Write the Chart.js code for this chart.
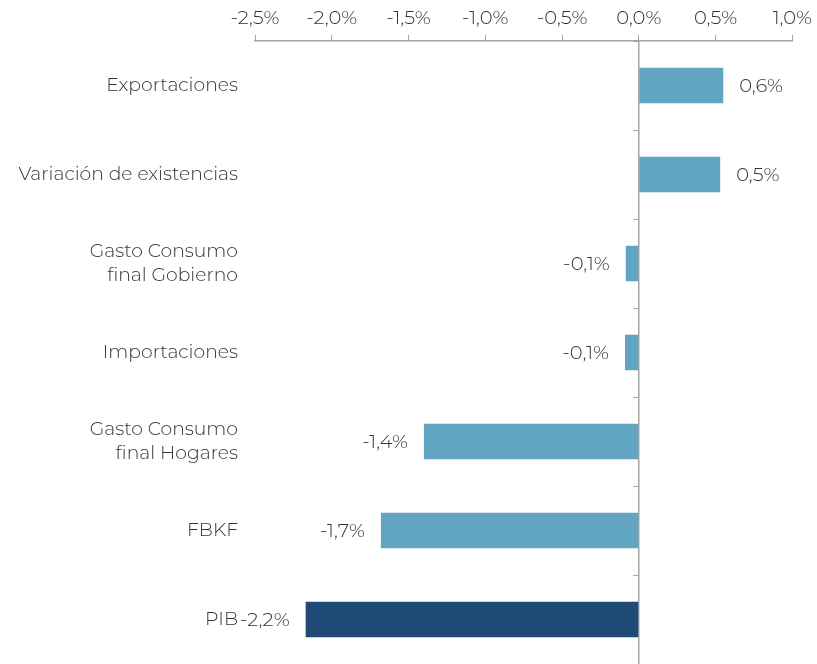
<!DOCTYPE html>
<html>
<head>
<meta charset="utf-8">
<script src="https://cdn.jsdelivr.net/npm/chart.js@4/dist/chart.umd.min.js"></script>
<style>
  html, body { margin: 0; padding: 0; background: #fff; }
  #wrap { width: 817px; height: 664px; }
</style>
</head>
<body>
<div id="wrap"><canvas id="myChart" width="817" height="664"></canvas></div>
<script>
'use strict';

// data
const categories = ['Exportaciones', 'Variación de existencias', ['Gasto Consumo', 'final Gobierno'], 'Importaciones', ['Gasto Consumo', 'final Hogares'], 'FBKF', 'PIB'];
const values = [0.55, 0.53, -0.085, -0.09, -1.40, -1.68, -2.17];
const valueLabels = ['0,6%', '0,5%', '-0,1%', '-0,1%', '-1,4%', '-1,7%', '-2,2%'];
const barColors = ['#62a5c1', '#62a5c1', '#62a5c1', '#62a5c1', '#62a5c1', '#62a5c1', '#1f4a76'];
const xMin = -2.5;
const xMax = 1.0;
const xStep = 0.5;

const textColor = '#333333';
const axisColor = '#a6a6a6';
const fontFamily = 'Montserrat, "Open Sans", Lato, sans-serif';

function fmtPct(v) {
  let s = Math.abs(v) < 1e-9 ? '0.0' : v.toFixed(1);
  return s.replace('.', ',') + '%';
}

// draws the value text next to each bar end
const barLabels = {
  id: 'barLabels',
  afterDatasetsDraw(chart) {
    let ctx = chart.ctx;
    let meta = chart.getDatasetMeta(0);
    ctx.save();
    ctx.font = '300 19.5px ' + fontFamily;
    ctx.fillStyle = textColor;
    ctx.textBaseline = 'middle';
    meta.data.forEach(function(bar, i) {
      if (values[i] >= 0) {
        ctx.textAlign = 'left';
        ctx.fillText(valueLabels[i], bar.x + 16, bar.y + 1);
      } else {
        ctx.textAlign = 'right';
        ctx.fillText(valueLabels[i], bar.x - 16, bar.y + 1);
      }
    });
    ctx.restore();
  }
};

let ctx = document.getElementById('myChart').getContext('2d');
let myChart = new Chart(ctx, {
  type: 'bar',
  data: {
    labels: categories,
    datasets: [{
      data: values,
      backgroundColor: barColors,
      borderWidth: 0,
      barPercentage: 0.4,
      categoryPercentage: 1.0
    }]
  },
  options: {
    indexAxis: 'y',
    responsive: false,
    animation: false,
    events: [],
    layout: { padding: { top: 0, right: 23, bottom: 0, left: 0 } },
    plugins: {
      legend: { display: false },
      tooltip: { enabled: false }
    },
    scales: {
      x: {
        position: 'top',
        min: xMin,
        max: xMax,
        afterFit(scale) { scale.height = 41; },
        afterBuildTicks(scale) {
          let t = [];
          for (let v = xMin; v <= xMax + 1e-9; v += xStep) t.push({ value: Math.round(v * 10) / 10 });
          scale.ticks = t;
        },
        ticks: {
          color: textColor,
          font: { size: 19.5, weight: 300, family: fontFamily },
          padding: 5,
          maxRotation: 0,
          callback(v) { return fmtPct(v); }
        },
        grid: { drawOnChartArea: false, color: axisColor, tickLength: 6, lineWidth: 1 },
        border: { display: true, color: axisColor, width: 1.5 }
      },
      y: {
        position: 'left',
        afterFit(scale) {
          scale.width = 255;
          scale.paddingTop = 0;
          scale.paddingBottom = 0;
        },
        ticks: {
          color: textColor,
          font: { size: 18.8, weight: 300, family: fontFamily, lineHeight: 1.23 },
          padding: 17
        },
        grid: { display: false, tickLength: 0 },
        border: { display: false }
      },
      y2: {
        type: 'category',
        labels: categories,
        position: { x: 0 },
        offset: true,
        ticks: { display: false },
        grid: { drawOnChartArea: false, offset: true, color: axisColor, tickLength: 5, lineWidth: 1 },
        border: { display: true, color: axisColor, width: 1.5 }
      }
    }
  },
  plugins: [barLabels]
});
</script>
</body>
</html>
